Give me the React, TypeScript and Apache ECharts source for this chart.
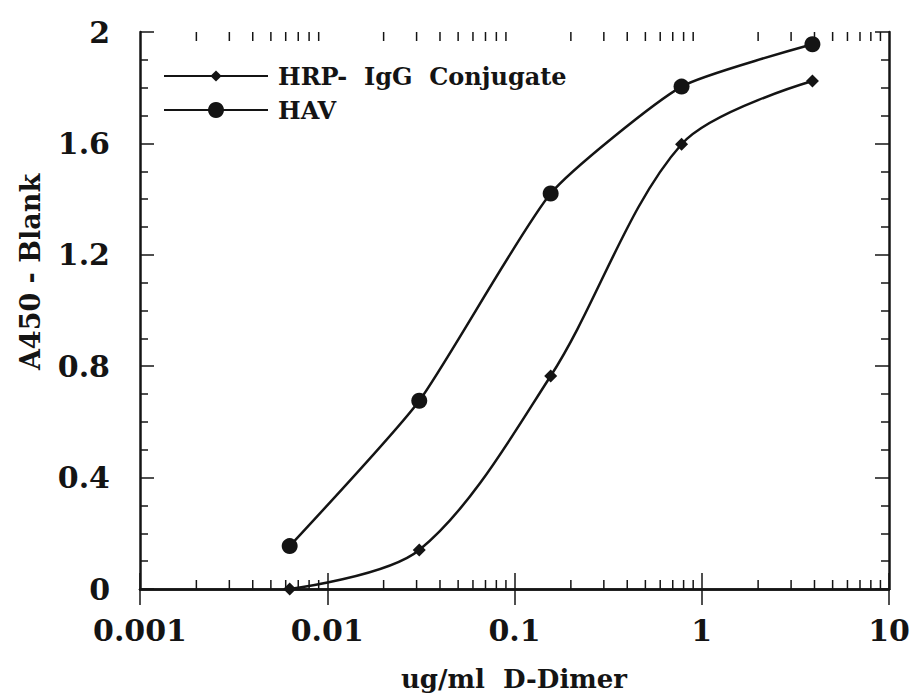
import React, { useEffect, useRef } from "react";
import * as echarts from "echarts";

// ---- data ----
const concentrations = [0.0063, 0.031, 0.156, 0.78, 3.9]; // ug/ml D-Dimer
const hrpValues = [0.0, 0.14, 0.765, 1.597, 1.824]; // HRP- IgG Conjugate
const havValues = [0.154, 0.676, 1.42, 1.804, 1.956]; // HAV
const seriesNames = ["HRP-  IgG  Conjugate", "HAV"];
const xTickLabels = ["0.001", "0.01", "0.1", "1", "10"];
const yTickLabels = ["0", "0.4", "0.8", "1.2", "1.6", "2"];

const X_MIN = 0.001;
const X_MAX = 10;
const Y_MIN = 0;
const Y_MAX = 2;

// log minor tick positions (2..9 per decade)
const minorTickVals: number[] = [];
for (let e = -3; e < 1; e++) {
  for (let m = 2; m <= 9; m++) minorTickVals.push(Number((m * Math.pow(10, e)).toPrecision(3)));
}

const INK = "#141414";
const FONT = "DejaVu Serif";

export default function App() {
  const ref = useRef<HTMLDivElement>(null);
  useEffect(() => {
    if (!ref.current) return;
    const chart = echarts.init(ref.current, undefined, { renderer: "svg" });
    const fmtX = (v: number) => {
      const s = Number(Number(v).toPrecision(3)).toString();
      return xTickLabels.includes(s) ? s : "";
    };
    const fmtY = (v: number) => {
      const s = Number(Number(v).toFixed(2)).toString();
      return yTickLabels.includes(s) ? s : "";
    };
    const labelStyle = {
      fontFamily: FONT,
      fontWeight: "bold" as const,
      fontSize: 30,
      color: INK,
    };
    const legendText = {
      fontFamily: FONT,
      fontWeight: "bold" as const,
      fontSize: 24,
      color: INK,
      lineHeight: 30,
      padding: [0, 0, 0, 5],
    };
    const axisLine = { show: true, lineStyle: { color: INK, width: 2.5 } };
    chart.setOption({
      animation: false,
      backgroundColor: "#ffffff",
      grid: { left: 140, right: 24, top: 32, bottom: 108, containLabel: false },
      legend: [
        {
          data: [seriesNames[0]],
          left: 163,
          top: 61,
          padding: 0,
          itemWidth: 104,
          itemHeight: 14,
          selectedMode: false,
          textStyle: legendText,
        },
        {
          data: [seriesNames[1]],
          left: 163,
          top: 95,
          padding: 0,
          itemWidth: 104,
          itemHeight: 20,
          selectedMode: false,
          textStyle: legendText,
        },
      ],
      xAxis: [
        {
          type: "log",
          logBase: 10,
          min: X_MIN,
          max: X_MAX,
          position: "bottom",
          axisLine,
          axisTick: { show: true, inside: true, length: 16, lineStyle: { color: INK, width: 1.5 } },
          splitLine: { show: false },
          axisLabel: { show: true, margin: 26, formatter: fmtX, ...labelStyle },
        },
        {
          type: "log",
          logBase: 10,
          min: X_MIN,
          max: X_MAX,
          position: "top",
          axisLine,
          axisTick: { show: true, inside: true, length: 16, lineStyle: { color: INK, width: 1.5 } },
          splitLine: { show: false },
          axisLabel: { show: false },
        },
      ],
      yAxis: [
        {
          type: "value",
          min: Y_MIN,
          max: Y_MAX,
          interval: 0.4,
          position: "left",
          axisLine,
          axisTick: { show: true, inside: true, length: 14, lineStyle: { color: INK, width: 1.5 } },
          minorTick: { show: true, splitNumber: 4, length: 8, lineStyle: { color: INK, width: 1.5 } },
          splitLine: { show: false },
          axisLabel: { show: true, margin: 30, formatter: fmtY, ...labelStyle },
        },
        {
          type: "value",
          min: Y_MIN,
          max: Y_MAX,
          interval: 0.4,
          position: "right",
          axisLine,
          axisTick: { show: true, inside: true, length: 14, lineStyle: { color: INK, width: 1.5 } },
          minorTick: { show: true, splitNumber: 4, length: 8, lineStyle: { color: INK, width: 1.5 } },
          splitLine: { show: false },
          axisLabel: { show: false },
        },
      ],
      graphic: [
        {
          type: "text",
          x: 514,
          y: 679,
          style: {
            text: "ug/ml  D-Dimer",
            fontFamily: FONT,
            fontWeight: "bold",
            fontSize: 26,
            fill: INK,
            textAlign: "center",
            textVerticalAlign: "middle",
          },
        },
        {
          type: "text",
          x: 30,
          y: 272,
          rotation: Math.PI / 2,
          style: {
            text: "A450 - Blank",
            fontFamily: FONT,
            fontWeight: "bold",
            fontSize: 27,
            fill: INK,
            textAlign: "center",
            textVerticalAlign: "middle",
          },
        },
      ],
      series: [
        {
          name: seriesNames[0],
          type: "line",
          xAxisIndex: 0,
          yAxisIndex: 0,
          data: concentrations.map((c, i) => [c, hrpValues[i]]),
          smooth: 0.32,
          symbol: "diamond",
          symbolSize: 13,
          clip: false,
          lineStyle: { color: INK, width: 2.5 },
          itemStyle: { color: INK },
          z: 5,
        },
        {
          name: seriesNames[1],
          type: "line",
          xAxisIndex: 0,
          yAxisIndex: 0,
          data: concentrations.map((c, i) => [c, havValues[i]]),
          smooth: 0.18,
          symbol: "circle",
          symbolSize: 16,
          clip: false,
          lineStyle: { color: INK, width: 2.5 },
          itemStyle: { color: INK },
          z: 5,
        },
        {
          name: "minorTicks",
          type: "custom",
          xAxisIndex: 0,
          yAxisIndex: 0,
          silent: true,
          clip: false,
          data: minorTickVals.map((v) => [v, Y_MIN]),
          renderItem: (_params: any, api: any) => {
            const xv = api.value(0);
            const pb = api.coord([xv, Y_MIN]);
            const pt = api.coord([xv, Y_MAX]);
            const len = 9;
            const st = { stroke: INK, lineWidth: 1.5 };
            return {
              type: "group",
              children: [
                { type: "line", shape: { x1: pb[0], y1: pb[1], x2: pb[0], y2: pb[1] - len }, style: st },
                { type: "line", shape: { x1: pt[0], y1: pt[1], x2: pt[0], y2: pt[1] + len }, style: st },
              ],
            };
          },
          z: 1,
        },
      ],
    });
    return () => chart.dispose();
  }, []);
  return (
    <div
      ref={ref}
      style={{ position: "fixed", left: 0, top: 0, width: 913, height: 697, background: "#fff" }}
    />
  );
}
